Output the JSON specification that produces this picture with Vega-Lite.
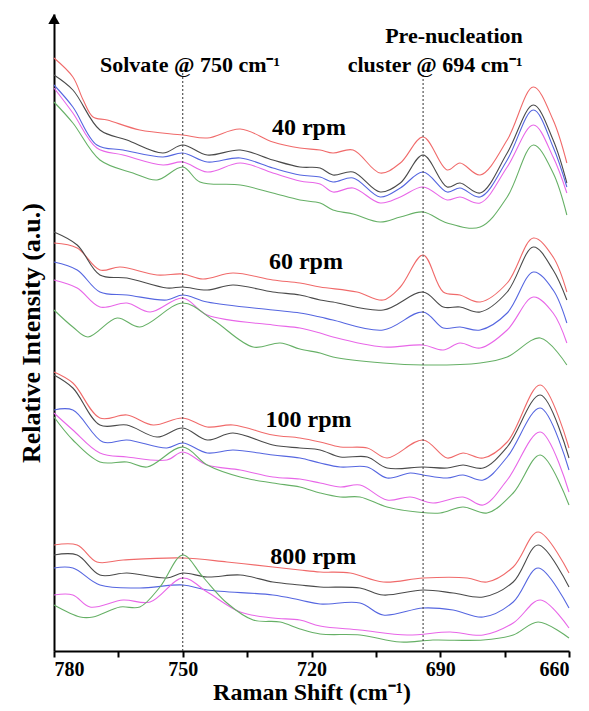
{
  "$schema": "https://vega.github.io/schema/vega-lite/v6.json",
  "autosize": "none",
  "width": 515,
  "height": 637,
  "padding": {"left": 54, "top": 14, "right": 20, "bottom": 60},
  "background": "white",
  "config": {"view": {"stroke": null}},
  "encoding": {
    "x": {"field": "x", "type": "quantitative",
      "scale": {"domain": [660, 780], "reverse": true, "nice": false, "zero": false},
      "axis": {"title": "Raman Shift (cm⁻¹)", "values": [780, 765, 750, 735, 720, 705, 690, 675, 660],
        "labelExpr": "datum.value % 30 == 0 ? datum.label : ''", "grid": false,
        "domainColor": "black", "domainWidth": 2, "tickColor": "black", "tickWidth": 2, "tickSize": 6,
        "labelFont": "Liberation Serif", "labelFontWeight": "bold", "labelFontSize": 20, "labelColor": "black", "labelPadding": 2,
        "titleFont": "Liberation Serif", "titleFontWeight": "bold", "titleFontSize": 24, "titleColor": "black", "titlePadding": 1}},
    "y": {"field": "y", "type": "quantitative",
      "scale": {"domain": [0, 637], "nice": false, "zero": false},
      "axis": {"title": "Relative Intensity (a.u.)", "ticks": false, "labels": false, "grid": false,
        "domainColor": "black", "domainWidth": 2,
        "titleFont": "Liberation Serif", "titleFontWeight": "bold", "titleFontSize": 26, "titleColor": "black", "titlePadding": 10}}
  },
  "layer": [
    {
      "data": {"values": [
        {"g":"40","s":"a","x":780,"y":593},{"g":"40","s":"a","x":775.6,"y":574},{"g":"40","s":"a","x":773.2,"y":551},{"g":"40","s":"a","x":770.9,"y":534},{"g":"40","s":"a","x":767.6,"y":531},{"g":"40","s":"a","x":760,"y":521},{"g":"40","s":"a","x":750,"y":516},{"g":"40","s":"a","x":744.3,"y":513},{"g":"40","s":"a","x":736.6,"y":522},{"g":"40","s":"a","x":729,"y":509},{"g":"40","s":"a","x":722.7,"y":503},{"g":"40","s":"a","x":718,"y":501},{"g":"40","s":"a","x":715,"y":498},{"g":"40","s":"a","x":710.3,"y":501},{"g":"40","s":"a","x":704,"y":478},{"g":"40","s":"a","x":699.3,"y":488},{"g":"40","s":"a","x":694,"y":514},{"g":"40","s":"a","x":688.4,"y":481},{"g":"40","s":"a","x":685.4,"y":488},{"g":"40","s":"a","x":680.7,"y":476},{"g":"40","s":"a","x":674.4,"y":511},{"g":"40","s":"a","x":668.3,"y":564},{"g":"40","s":"a","x":663.7,"y":531},{"g":"40","s":"a","x":660.5,"y":488},
        {"g":"40","s":"b","x":780,"y":576},{"g":"40","s":"b","x":775.6,"y":561},{"g":"40","s":"b","x":769.3,"y":521},{"g":"40","s":"b","x":763,"y":511},{"g":"40","s":"b","x":754.6,"y":498},{"g":"40","s":"b","x":750,"y":506},{"g":"40","s":"b","x":744.3,"y":496},{"g":"40","s":"b","x":736.6,"y":501},{"g":"40","s":"b","x":729,"y":491},{"g":"40","s":"b","x":722.7,"y":484},{"g":"40","s":"b","x":718,"y":483},{"g":"40","s":"b","x":715,"y":476},{"g":"40","s":"b","x":710.3,"y":479},{"g":"40","s":"b","x":704,"y":459},{"g":"40","s":"b","x":699.3,"y":468},{"g":"40","s":"b","x":694,"y":496},{"g":"40","s":"b","x":688.4,"y":464},{"g":"40","s":"b","x":685.4,"y":468},{"g":"40","s":"b","x":680.7,"y":458},{"g":"40","s":"b","x":674.4,"y":498},{"g":"40","s":"b","x":668.3,"y":546},{"g":"40","s":"b","x":663.7,"y":511},{"g":"40","s":"b","x":660.5,"y":468},
        {"g":"40","s":"c","x":780,"y":566},{"g":"40","s":"c","x":775.6,"y":544},{"g":"40","s":"c","x":770,"y":506},{"g":"40","s":"c","x":763.9,"y":501},{"g":"40","s":"c","x":754.6,"y":494},{"g":"40","s":"c","x":750,"y":498},{"g":"40","s":"c","x":744.3,"y":489},{"g":"40","s":"c","x":736.6,"y":493},{"g":"40","s":"c","x":729,"y":483},{"g":"40","s":"c","x":722.7,"y":476},{"g":"40","s":"c","x":718,"y":474},{"g":"40","s":"c","x":715,"y":469},{"g":"40","s":"c","x":710.3,"y":473},{"g":"40","s":"c","x":704,"y":454},{"g":"40","s":"c","x":699.3,"y":463},{"g":"40","s":"c","x":694,"y":479},{"g":"40","s":"c","x":688.4,"y":459},{"g":"40","s":"c","x":685.4,"y":463},{"g":"40","s":"c","x":680.7,"y":454},{"g":"40","s":"c","x":674.4,"y":491},{"g":"40","s":"c","x":668.3,"y":541},{"g":"40","s":"c","x":663.7,"y":504},{"g":"40","s":"c","x":660.5,"y":464},
        {"g":"40","s":"d","x":780,"y":563},{"g":"40","s":"d","x":775.6,"y":538},{"g":"40","s":"d","x":770,"y":503},{"g":"40","s":"d","x":763.9,"y":496},{"g":"40","s":"d","x":754.6,"y":486},{"g":"40","s":"d","x":750,"y":489},{"g":"40","s":"d","x":744.3,"y":479},{"g":"40","s":"d","x":736.6,"y":488},{"g":"40","s":"d","x":729,"y":478},{"g":"40","s":"d","x":722.7,"y":470},{"g":"40","s":"d","x":718,"y":467},{"g":"40","s":"d","x":715,"y":459},{"g":"40","s":"d","x":710.3,"y":463},{"g":"40","s":"d","x":704,"y":448},{"g":"40","s":"d","x":699.3,"y":454},{"g":"40","s":"d","x":694,"y":464},{"g":"40","s":"d","x":688.4,"y":451},{"g":"40","s":"d","x":685.4,"y":454},{"g":"40","s":"d","x":680.7,"y":448},{"g":"40","s":"d","x":674.4,"y":484},{"g":"40","s":"d","x":668.3,"y":526},{"g":"40","s":"d","x":663.7,"y":494},{"g":"40","s":"d","x":660.5,"y":458},
        {"g":"40","s":"e","x":780,"y":549},{"g":"40","s":"e","x":775.6,"y":528},{"g":"40","s":"e","x":769.3,"y":491},{"g":"40","s":"e","x":761.6,"y":478},{"g":"40","s":"e","x":756,"y":471},{"g":"40","s":"e","x":750,"y":484},{"g":"40","s":"e","x":746,"y":469},{"g":"40","s":"e","x":736.6,"y":466},{"g":"40","s":"e","x":729,"y":458},{"g":"40","s":"e","x":722.7,"y":451},{"g":"40","s":"e","x":718,"y":448},{"g":"40","s":"e","x":715,"y":441},{"g":"40","s":"e","x":710.3,"y":437},{"g":"40","s":"e","x":704,"y":429},{"g":"40","s":"e","x":699.3,"y":434},{"g":"40","s":"e","x":694,"y":439},{"g":"40","s":"e","x":688.4,"y":428},{"g":"40","s":"e","x":680.7,"y":424},{"g":"40","s":"e","x":674.4,"y":454},{"g":"40","s":"e","x":668.3,"y":506},{"g":"40","s":"e","x":663.7,"y":478},{"g":"40","s":"e","x":660.5,"y":436},

        {"g":"60","s":"a","x":780,"y":408},{"g":"60","s":"a","x":774.6,"y":403},{"g":"60","s":"a","x":769.3,"y":381},{"g":"60","s":"a","x":764.6,"y":384},{"g":"60","s":"a","x":756,"y":376},{"g":"60","s":"a","x":750,"y":377},{"g":"60","s":"a","x":745.3,"y":372},{"g":"60","s":"a","x":738.3,"y":378},{"g":"60","s":"a","x":729,"y":371},{"g":"60","s":"a","x":722.7,"y":368},{"g":"60","s":"a","x":718,"y":364},{"g":"60","s":"a","x":709.4,"y":359},{"g":"60","s":"a","x":703.3,"y":351},{"g":"60","s":"a","x":699.3,"y":364},{"g":"60","s":"a","x":694,"y":396},{"g":"60","s":"a","x":689.3,"y":359},{"g":"60","s":"a","x":685.4,"y":356},{"g":"60","s":"a","x":680.7,"y":349},{"g":"60","s":"a","x":674.4,"y":368},{"g":"60","s":"a","x":668.3,"y":413},{"g":"60","s":"a","x":663.7,"y":394},{"g":"60","s":"a","x":660.5,"y":359},
        {"g":"60","s":"b","x":780,"y":419},{"g":"60","s":"b","x":774.6,"y":406},{"g":"60","s":"b","x":769.3,"y":376},{"g":"60","s":"b","x":763,"y":373},{"g":"60","s":"b","x":753.7,"y":363},{"g":"60","s":"b","x":750,"y":364},{"g":"60","s":"b","x":744.3,"y":361},{"g":"60","s":"b","x":738.3,"y":366},{"g":"60","s":"b","x":729,"y":359},{"g":"60","s":"b","x":722.7,"y":356},{"g":"60","s":"b","x":718,"y":351},{"g":"60","s":"b","x":715,"y":349},{"g":"60","s":"b","x":703.3,"y":341},{"g":"60","s":"b","x":694,"y":359},{"g":"60","s":"b","x":689.3,"y":344},{"g":"60","s":"b","x":685.4,"y":344},{"g":"60","s":"b","x":680.7,"y":339},{"g":"60","s":"b","x":674.4,"y":359},{"g":"60","s":"b","x":668.3,"y":404},{"g":"60","s":"b","x":663.7,"y":381},{"g":"60","s":"b","x":660.5,"y":351},
        {"g":"60","s":"c","x":780,"y":389},{"g":"60","s":"c","x":774.6,"y":381},{"g":"60","s":"c","x":769.3,"y":359},{"g":"60","s":"c","x":763,"y":356},{"g":"60","s":"c","x":753.7,"y":351},{"g":"60","s":"c","x":750,"y":356},{"g":"60","s":"c","x":744.3,"y":349},{"g":"60","s":"c","x":729,"y":341},{"g":"60","s":"c","x":722.7,"y":338},{"g":"60","s":"c","x":718,"y":334},{"g":"60","s":"c","x":715,"y":331},{"g":"60","s":"c","x":703.3,"y":321},{"g":"60","s":"c","x":694,"y":339},{"g":"60","s":"c","x":689.3,"y":323},{"g":"60","s":"c","x":685.4,"y":324},{"g":"60","s":"c","x":680.7,"y":321},{"g":"60","s":"c","x":674.4,"y":338},{"g":"60","s":"c","x":668.3,"y":379},{"g":"60","s":"c","x":663.7,"y":361},{"g":"60","s":"c","x":660.5,"y":328},
        {"g":"60","s":"d","x":780,"y":371},{"g":"60","s":"d","x":774.6,"y":363},{"g":"60","s":"d","x":769.3,"y":344},{"g":"60","s":"d","x":763,"y":348},{"g":"60","s":"d","x":757.6,"y":339},{"g":"60","s":"d","x":750,"y":353},{"g":"60","s":"d","x":744.3,"y":336},{"g":"60","s":"d","x":729,"y":326},{"g":"60","s":"d","x":722.7,"y":323},{"g":"60","s":"d","x":718,"y":318},{"g":"60","s":"d","x":715,"y":314},{"g":"60","s":"d","x":703.3,"y":304},{"g":"60","s":"d","x":694,"y":306},{"g":"60","s":"d","x":689.3,"y":301},{"g":"60","s":"d","x":685.4,"y":308},{"g":"60","s":"d","x":680.7,"y":303},{"g":"60","s":"d","x":674.4,"y":321},{"g":"60","s":"d","x":668.3,"y":354},{"g":"60","s":"d","x":663.7,"y":338},{"g":"60","s":"d","x":660.5,"y":308},
        {"g":"60","s":"e","x":780,"y":341},{"g":"60","s":"e","x":775.6,"y":324},{"g":"60","s":"e","x":772.1,"y":314},{"g":"60","s":"e","x":765.3,"y":333},{"g":"60","s":"e","x":760,"y":324},{"g":"60","s":"e","x":750,"y":348},{"g":"60","s":"e","x":742.9,"y":331},{"g":"60","s":"e","x":733.6,"y":304},{"g":"60","s":"e","x":727.3,"y":308},{"g":"60","s":"e","x":722.7,"y":302},{"g":"60","s":"e","x":718,"y":298},{"g":"60","s":"e","x":715,"y":294},{"g":"60","s":"e","x":703.3,"y":288},{"g":"60","s":"e","x":694,"y":286},{"g":"60","s":"e","x":680.7,"y":288},{"g":"60","s":"e","x":674.4,"y":294},{"g":"60","s":"e","x":666.7,"y":313},{"g":"60","s":"e","x":660.5,"y":286},

        {"g":"100","s":"a","x":780,"y":279},{"g":"100","s":"a","x":775.6,"y":268},{"g":"100","s":"a","x":769.3,"y":233},{"g":"100","s":"a","x":763,"y":236},{"g":"100","s":"a","x":756.9,"y":226},{"g":"100","s":"a","x":750,"y":233},{"g":"100","s":"a","x":744.3,"y":224},{"g":"100","s":"a","x":738.3,"y":226},{"g":"100","s":"a","x":729,"y":216},{"g":"100","s":"a","x":722.7,"y":213},{"g":"100","s":"a","x":718,"y":209},{"g":"100","s":"a","x":713.3,"y":204},{"g":"100","s":"a","x":707,"y":203},{"g":"100","s":"a","x":702.4,"y":193},{"g":"100","s":"a","x":694,"y":211},{"g":"100","s":"a","x":688.4,"y":193},{"g":"100","s":"a","x":684.7,"y":198},{"g":"100","s":"a","x":680,"y":193},{"g":"100","s":"a","x":674.4,"y":209},{"g":"100","s":"a","x":666.7,"y":266},{"g":"100","s":"a","x":660,"y":203},
        {"g":"100","s":"b","x":780,"y":276},{"g":"100","s":"b","x":775.6,"y":263},{"g":"100","s":"b","x":769.3,"y":226},{"g":"100","s":"b","x":763,"y":226},{"g":"100","s":"b","x":756,"y":214},{"g":"100","s":"b","x":750,"y":223},{"g":"100","s":"b","x":744.3,"y":211},{"g":"100","s":"b","x":738.3,"y":218},{"g":"100","s":"b","x":729,"y":206},{"g":"100","s":"b","x":722.7,"y":203},{"g":"100","s":"b","x":718,"y":201},{"g":"100","s":"b","x":713.3,"y":194},{"g":"100","s":"b","x":707,"y":194},{"g":"100","s":"b","x":702.4,"y":183},{"g":"100","s":"b","x":694,"y":184},{"g":"100","s":"b","x":688.4,"y":183},{"g":"100","s":"b","x":684.7,"y":186},{"g":"100","s":"b","x":680,"y":183},{"g":"100","s":"b","x":674.4,"y":204},{"g":"100","s":"b","x":666.7,"y":256},{"g":"100","s":"b","x":660,"y":193},
        {"g":"100","s":"c","x":780,"y":241},{"g":"100","s":"c","x":775.6,"y":241},{"g":"100","s":"c","x":768.6,"y":209},{"g":"100","s":"c","x":763,"y":211},{"g":"100","s":"c","x":753.7,"y":203},{"g":"100","s":"c","x":750,"y":208},{"g":"100","s":"c","x":744.3,"y":198},{"g":"100","s":"c","x":738.3,"y":201},{"g":"100","s":"c","x":729,"y":196},{"g":"100","s":"c","x":722.7,"y":193},{"g":"100","s":"c","x":718,"y":188},{"g":"100","s":"c","x":713.3,"y":184},{"g":"100","s":"c","x":707,"y":184},{"g":"100","s":"c","x":702.4,"y":173},{"g":"100","s":"c","x":697,"y":178},{"g":"100","s":"c","x":694,"y":176},{"g":"100","s":"c","x":688.4,"y":173},{"g":"100","s":"c","x":684.7,"y":176},{"g":"100","s":"c","x":680,"y":171},{"g":"100","s":"c","x":674.4,"y":194},{"g":"100","s":"c","x":666.7,"y":243},{"g":"100","s":"c","x":660,"y":181},
        {"g":"100","s":"d","x":780,"y":238},{"g":"100","s":"d","x":775.6,"y":221},{"g":"100","s":"d","x":769.3,"y":198},{"g":"100","s":"d","x":763,"y":194},{"g":"100","s":"d","x":753.7,"y":191},{"g":"100","s":"d","x":750,"y":199},{"g":"100","s":"d","x":744.3,"y":186},{"g":"100","s":"d","x":736.6,"y":181},{"g":"100","s":"d","x":729,"y":174},{"g":"100","s":"d","x":722.7,"y":172},{"g":"100","s":"d","x":718,"y":168},{"g":"100","s":"d","x":713.3,"y":164},{"g":"100","s":"d","x":708.7,"y":166},{"g":"100","s":"d","x":702.4,"y":151},{"g":"100","s":"d","x":697,"y":154},{"g":"100","s":"d","x":691.7,"y":148},{"g":"100","s":"d","x":684.7,"y":154},{"g":"100","s":"d","x":680,"y":146},{"g":"100","s":"d","x":674.4,"y":171},{"g":"100","s":"d","x":666.7,"y":219},{"g":"100","s":"d","x":660,"y":159},
        {"g":"100","s":"e","x":780,"y":234},{"g":"100","s":"e","x":775.6,"y":211},{"g":"100","s":"e","x":769.3,"y":189},{"g":"100","s":"e","x":763,"y":189},{"g":"100","s":"e","x":758.3,"y":184},{"g":"100","s":"e","x":750,"y":204},{"g":"100","s":"e","x":744.3,"y":186},{"g":"100","s":"e","x":736.6,"y":174},{"g":"100","s":"e","x":729,"y":168},{"g":"100","s":"e","x":722.7,"y":164},{"g":"100","s":"e","x":718,"y":158},{"g":"100","s":"e","x":713.3,"y":154},{"g":"100","s":"e","x":708.7,"y":154},{"g":"100","s":"e","x":702.4,"y":144},{"g":"100","s":"e","x":695.4,"y":139},{"g":"100","s":"e","x":690,"y":138},{"g":"100","s":"e","x":684.7,"y":144},{"g":"100","s":"e","x":679.1,"y":138},{"g":"100","s":"e","x":673,"y":158},{"g":"100","s":"e","x":666.7,"y":196},{"g":"100","s":"e","x":660,"y":146},

        {"g":"800","s":"a","x":780,"y":106},{"g":"800","s":"a","x":774.6,"y":106},{"g":"800","s":"a","x":770,"y":89},{"g":"800","s":"a","x":763.9,"y":91},{"g":"800","s":"a","x":750,"y":93},{"g":"800","s":"a","x":739.7,"y":89},{"g":"800","s":"a","x":729,"y":84},{"g":"800","s":"a","x":722.7,"y":81},{"g":"800","s":"a","x":718,"y":79},{"g":"800","s":"a","x":711,"y":78},{"g":"800","s":"a","x":703.3,"y":69},{"g":"800","s":"a","x":694,"y":73},{"g":"800","s":"a","x":683.7,"y":73},{"g":"800","s":"a","x":679.1,"y":69},{"g":"800","s":"a","x":673,"y":84},{"g":"800","s":"a","x":667.2,"y":119},{"g":"800","s":"a","x":660,"y":78},
        {"g":"800","s":"b","x":780,"y":96},{"g":"800","s":"b","x":774.6,"y":96},{"g":"800","s":"b","x":769.3,"y":76},{"g":"800","s":"b","x":763,"y":78},{"g":"800","s":"b","x":753.7,"y":73},{"g":"800","s":"b","x":750,"y":78},{"g":"800","s":"b","x":744.3,"y":74},{"g":"800","s":"b","x":736.6,"y":76},{"g":"800","s":"b","x":729,"y":69},{"g":"800","s":"b","x":722.7,"y":66},{"g":"800","s":"b","x":718,"y":64},{"g":"800","s":"b","x":708.7,"y":63},{"g":"800","s":"b","x":703.3,"y":56},{"g":"800","s":"b","x":694,"y":61},{"g":"800","s":"b","x":687,"y":58},{"g":"800","s":"b","x":680,"y":54},{"g":"800","s":"b","x":673,"y":69},{"g":"800","s":"b","x":667.2,"y":106},{"g":"800","s":"b","x":660,"y":64},
        {"g":"800","s":"c","x":780,"y":83},{"g":"800","s":"c","x":775.6,"y":83},{"g":"800","s":"c","x":769.3,"y":66},{"g":"800","s":"c","x":760,"y":63},{"g":"800","s":"c","x":750,"y":66},{"g":"800","s":"c","x":744.3,"y":61},{"g":"800","s":"c","x":729,"y":56},{"g":"800","s":"c","x":722.7,"y":51},{"g":"800","s":"c","x":718,"y":47},{"g":"800","s":"c","x":708.7,"y":48},{"g":"800","s":"c","x":703.3,"y":36},{"g":"800","s":"c","x":694,"y":43},{"g":"800","s":"c","x":687,"y":41},{"g":"800","s":"c","x":680,"y":34},{"g":"800","s":"c","x":673,"y":49},{"g":"800","s":"c","x":667.2,"y":83},{"g":"800","s":"c","x":660,"y":43},
        {"g":"800","s":"d","x":780,"y":56},{"g":"800","s":"d","x":775.6,"y":56},{"g":"800","s":"d","x":771.6,"y":44},{"g":"800","s":"d","x":763.9,"y":51},{"g":"800","s":"d","x":757.6,"y":49},{"g":"800","s":"d","x":750,"y":73},{"g":"800","s":"d","x":744.3,"y":59},{"g":"800","s":"d","x":736.6,"y":39},{"g":"800","s":"d","x":729,"y":33},{"g":"800","s":"d","x":722.7,"y":31},{"g":"800","s":"d","x":718,"y":25},{"g":"800","s":"d","x":708.7,"y":21},{"g":"800","s":"d","x":697.7,"y":16},{"g":"800","s":"d","x":687.7,"y":19},{"g":"800","s":"d","x":680,"y":16},{"g":"800","s":"d","x":673,"y":28},{"g":"800","s":"d","x":666.7,"y":51},{"g":"800","s":"d","x":660,"y":23},
        {"g":"800","s":"e","x":780,"y":46},{"g":"800","s":"e","x":773.9,"y":34},{"g":"800","s":"e","x":770.9,"y":34},{"g":"800","s":"e","x":764.6,"y":44},{"g":"800","s":"e","x":760,"y":44},{"g":"800","s":"e","x":755.3,"y":64},{"g":"800","s":"e","x":750,"y":96},{"g":"800","s":"e","x":745.3,"y":74},{"g":"800","s":"e","x":739.7,"y":48},{"g":"800","s":"e","x":733.6,"y":31},{"g":"800","s":"e","x":727.3,"y":29},{"g":"800","s":"e","x":722.7,"y":22},{"g":"800","s":"e","x":718,"y":17},{"g":"800","s":"e","x":708.7,"y":16},{"g":"800","s":"e","x":699.3,"y":9},{"g":"800","s":"e","x":691.7,"y":11},{"g":"800","s":"e","x":680,"y":11},{"g":"800","s":"e","x":673,"y":16},{"g":"800","s":"e","x":667.2,"y":29},{"g":"800","s":"e","x":660,"y":13}
      ]},
      "mark": {"type": "line", "interpolate": "catmull-rom", "strokeWidth": 1.1},
      "encoding": {
        "color": {"field": "s", "type": "nominal", "legend": null,
          "scale": {"domain": ["a", "b", "c", "d", "e"], "range": ["#f06a6a", "#4a4a4a", "#5566e0", "#e866e8", "#66b066"]}},
        "detail": {"field": "g"}
      }
    },
    {
      "data": {"values": [{"x": 750, "y": 578}, {"x": 694, "y": 576}]},
      "mark": {"type": "rule", "strokeDash": [2, 2], "color": "#333333", "strokeWidth": 1},
      "encoding": {"y2": {"datum": 0}}
    },
    {
      "data": {"values": [
        {"x": 720.6, "y": 523, "t": "40 rpm"},
        {"x": 721.3, "y": 389, "t": "60 rpm"},
        {"x": 720.7, "y": 231, "t": "100 rpm"},
        {"x": 719.6, "y": 94, "t": "800 rpm"}
      ]},
      "mark": {"type": "text", "font": "Liberation Serif", "fontWeight": "bold", "fontSize": 24, "color": "black", "baseline": "middle", "align": "center"},
      "encoding": {"text": {"field": "t"}}
    },
    {
      "data": {"values": [
        {"x": 748.3, "y": 586, "t": "Solvate @ 750 cm⁻¹"},
        {"x": 691.2, "y": 586, "t": "cluster @ 694 cm⁻¹"},
        {"x": 686.8, "y": 615, "t": "Pre-nucleation"}
      ]},
      "mark": {"type": "text", "font": "Liberation Serif", "fontWeight": "bold", "fontSize": 22, "color": "black", "baseline": "middle", "align": "center"},
      "encoding": {"text": {"field": "t"}}
    },
    {
      "data": {"values": [{"x": 780, "y": 632}]},
      "mark": {"type": "point", "shape": "triangle-up", "filled": true, "color": "black", "size": 130, "opacity": 1}
    }
  ]
}
